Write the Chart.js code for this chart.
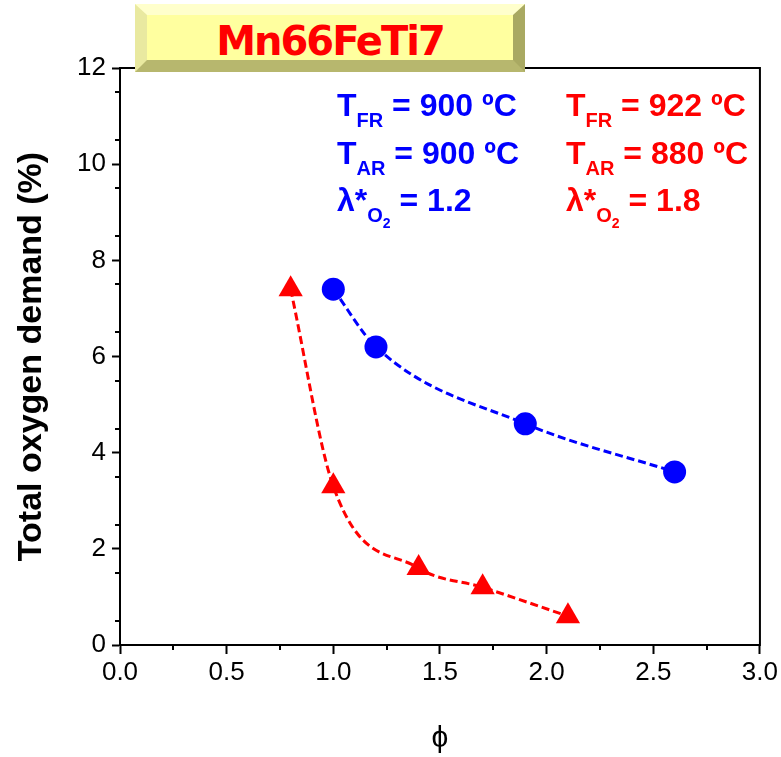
<!DOCTYPE html>
<html>
<head>
<meta charset="utf-8">
<script src="https://cdn.jsdelivr.net/npm/chart.js@4.4.1/dist/chart.umd.min.js"></script>
<style>
  body { margin: 0; background: #fff; }
  #wrap { position: relative; width: 781px; height: 757px; }
  #titleBox {
    position: absolute; left: 135px; top: 4px; width: 390px; height: 68px;
    box-sizing: border-box; border-style: solid; border-width: 11px 12px 12px 12px;
    border-color: #ffffcc #a9a962 #b7b76e #e9e9a0;
    background: #ffff9f; text-align: center;
    font: bold 40px "DejaVu Sans", sans-serif; letter-spacing: -2px;
    color: #ff0000; line-height: 52px;
  }
  .note { position: absolute; font: bold 32px "Liberation Sans", Arial, sans-serif; line-height: 32px; white-space: nowrap; }
  .sub { font-size: 20px; position: relative; top: 11px; }
  .sub2 { font-size: 14px; position: relative; top: 6px; }
  .blue { color: #0000ff; }
  .red { color: #ff0000; }
</style>
</head>
<body>
<div id="wrap">
  <canvas id="chart" width="781" height="757"></canvas>
  <div id="titleBox">Mn66FeTi7</div>
  <div class="note blue" style="left:337px; top:89px">T<span class="sub">FR</span> = 900 ºC</div>
  <div class="note blue" style="left:337px; top:137px">T<span class="sub">AR</span> = 900 ºC</div>
  <div class="note blue" style="left:337px; top:184px">λ*<span class="sub">O<span class="sub2">2</span></span> = 1.2</div>
  <div class="note red" style="left:566px; top:89px">T<span class="sub">FR</span> = 922 ºC</div>
  <div class="note red" style="left:566px; top:137px">T<span class="sub">AR</span> = 880 ºC</div>
  <div class="note red" style="left:566px; top:184px">λ*<span class="sub">O<span class="sub2">2</span></span> = 1.8</div>
</div>
<script>
// data
var phiBlue = [1.0, 1.2, 1.9, 2.6];
var demandBlue = [7.4, 6.2, 4.6, 3.6];
var phiRed = [0.8, 1.0, 1.4, 1.7, 2.1];
var demandRed = [7.4, 3.3, 1.6, 1.2, 0.6];
var xTicks = [0, 0.5, 1.0, 1.5, 2.0, 2.5, 3.0];
var yTicks = [0, 2, 4, 6, 8, 10, 12];

function toPoints(xs, ys) {
    return xs.map(function(x, i) { return { x: x, y: ys[i] }; });
}

// frame and minor ticks
var framePlugin = {
    id: 'frame',
    afterDraw: function(chart) {
        var ctx = chart.ctx, a = chart.chartArea;
        var xs = chart.scales.x, ys = chart.scales.y;
        ctx.save();
        ctx.strokeStyle = '#000';
        ctx.lineWidth = 2;
        ctx.strokeRect(a.left, a.top, a.right - a.left, a.bottom - a.top);
        ctx.beginPath();
        for (var v = 0.25; v < 3; v += 0.5) {
            var px = Math.round(xs.getPixelForValue(v));
            ctx.moveTo(px, a.bottom);
            ctx.lineTo(px, a.bottom + 5);
        }
        for (var w = 0.5; w < 12; w += 1) {
            var py = Math.round(ys.getPixelForValue(w));
            ctx.moveTo(a.left - 5, py);
            ctx.lineTo(a.left, py);
        }
        ctx.stroke();
        ctx.restore();
    }
};

var ctx = document.getElementById('chart');
var myChart = new Chart(ctx, {
    type: 'scatter',
    data: {
        datasets: [{
            data: toPoints(phiBlue, demandBlue),
            showLine: true,
            borderColor: '#0000ff',
            borderWidth: 3,
            borderDash: [8, 4],
            cubicInterpolationMode: 'monotone',
            pointStyle: 'circle',
            pointRadius: 11.5,
            pointBackgroundColor: '#0000ff',
            pointBorderColor: '#0000ff',
            pointBorderWidth: 0
        }, {
            data: toPoints(phiRed, demandRed),
            showLine: true,
            borderColor: '#ff0000',
            borderWidth: 3,
            borderDash: [8, 4],
            cubicInterpolationMode: 'monotone',
            pointStyle: 'triangle',
            pointRadius: 14,
            pointBackgroundColor: '#ff0000',
            pointBorderColor: '#ff0000',
            pointBorderWidth: 0
        }]
    },
    options: {
        responsive: false,
        animation: false,
        layout: { padding: { left: 0, top: 68, right: 14, bottom: 0 } },
        plugins: {
            legend: { display: false },
            tooltip: { enabled: false }
        },
        scales: {
            x: {
                type: 'linear',
                min: 0, max: 3,
                afterFit: function(s) { s.height = 112; },
                afterBuildTicks: function(s) { s.ticks = xTicks.map(function(v) { return { value: v }; }); },
                ticks: {
                    color: '#000',
                    padding: 3,
                    font: { family: 'Liberation Sans', size: 26 },
                    callback: function(v) { return Number(v).toFixed(1); }
                },
                grid: { drawOnChartArea: false, tickLength: 9, tickColor: '#000', tickWidth: 2 },
                border: { color: '#000', width: 2 },
                title: {
                    display: true, text: 'ϕ', color: '#000',
                    font: { family: 'Liberation Sans', size: 30 },
                    padding: { top: 0, bottom: 0 }
                }
            },
            y: {
                type: 'linear',
                min: 0, max: 12,
                afterFit: function(s) { s.width = 120; },
                afterBuildTicks: function(s) { s.ticks = yTicks.map(function(v) { return { value: v }; }); },
                ticks: {
                    color: '#000',
                    padding: 6,
                    font: { family: 'Liberation Sans', size: 26 }
                },
                grid: { drawOnChartArea: false, tickLength: 8, tickColor: '#000', tickWidth: 2 },
                border: { color: '#000', width: 2 },
                title: {
                    display: true, text: 'Total oxygen demand (%)', color: '#000',
                    font: { family: 'Liberation Sans', size: 34, weight: 'bold' },
                    padding: { top: 11, bottom: 0 }
                }
            }
        }
    },
    plugins: [framePlugin]
});
</script>
</body>
</html>
